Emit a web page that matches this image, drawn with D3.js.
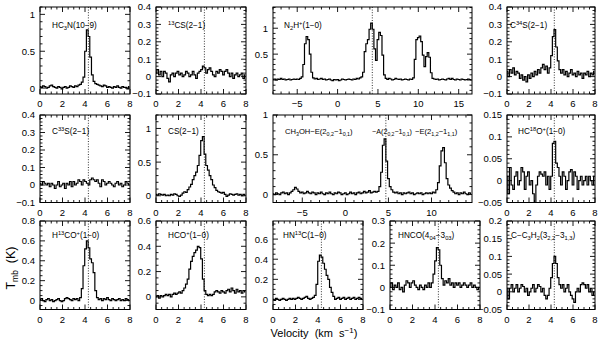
<!DOCTYPE html>
<html><head><meta charset="utf-8">
<script src="https://cdn.jsdelivr.net/npm/d3@7"></script>
<style>
body{margin:0;background:#fff}
svg{display:block}
text{font-family:"Liberation Sans",Arial,Helvetica,sans-serif;fill:#000}
</style>
</head><body>
<svg id="chart" width="600" height="342"></svg>
<script>
// ---------------- DATA ----------------
const vSys = 4.3;
const xTicks08 = [0, 2, 4, 6, 8];
const xTicksN2H = [-5, 0, 5, 10, 15];
const xTicksCH3OH = [-5, 0, 5, 10];
const yTicksHalf = [0, 0.5, 1];
const yTicksTenth = [-0.1, 0, 0.1, 0.2, 0.3, 0.4];
const yTicksHC18O = [-0.05, 0, 0.05, 0.1, 0.15];
const yTicksH13CO = [0, 0.2, 0.4, 0.6, 0.8];
const yTicksHCO = [0, 0.2, 0.4, 0.6];
const yTicksHN13C = [0, 0.2, 0.4, 0.6];
const yTicksHNCO = [-0.1, 0, 0.1, 0.2, 0.3];
const yTicksC3H2 = [-0.05, 0, 0.05, 0.1, 0.15, 0.2];

// channel grids: first velocity and channel width (km/s)
const grid08 = {v0: 0, dv: 0.15};
const gridN2H = {v0: -8, dv: 0.2};
const gridCH3OH = {v0: -8.4, dv: 0.2};

// spectra (T_mb in K), one value per channel
const hc3n = [0.02,0.01,0.03,0.02,0.00,0.01,0.03,0.04,0.02,0.01,0.00,0.02,0.01,-0.01,0.01,0.02,0.00,0.01,0.03,0.02,0.01,0.03,0.02,0.04,0.05,0.08,
  0.15,0.5,0.79,0.7,0.42,0.18,0.09,0.06,0.05,0.04,0.03,
  0.02,0.04,0.03,0.01,0.02,0.01,0.00,0.02,0.01,0.03,0.01,0.00,0.02,0.01,0.01,-0.01,0.02];
const cs13 = [0.02,0.04,0.01,0.03,0.00,0.03,0.02,-0.01,-0.03,0.01,0.02,0.00,0.02,0.03,0.01,0.02,0.00,0.01,0.03,0.02,
  0.00,0.01,0.03,0.01,-0.01,0.02,0.03,0.04,0.06,0.05,0.02,0.04,0.05,0.03,0.01,0.00,0.03,0.02,0.04,0.03,
  0.01,0.03,0.04,0.02,0.00,0.02,-0.01,0.01,0.02,0.00,0.01,0.02,-0.01,0.01];
const n2hp = [0.01,0.02,0.00,0.02,0.01,0.03,0.01,0.02,0.00,0.01,0.02,0.00,0.01,0.02,0.01,0.02,0.01,0.03,0.06,0.3,
  0.7,0.84,0.78,0.5,0.15,0.04,0.02,0.03,0.01,0.02,0.03,0.01,0.02,0.00,0.01,0.02,0.00,-0.01,0.01,0.00,
  0.01,-0.01,0.00,0.02,0.01,0.00,0.01,0.02,0.01,0.00,0.02,0.01,0.03,0.02,0.04,0.06,0.15,0.55,0.7,0.78,
  0.98,1.1,0.98,0.6,0.38,0.78,0.92,0.86,0.48,0.1,0.03,0.01,0.03,0.02,0.00,0.01,0.03,0.02,0.01,0.02,
  0.00,0.01,0.02,0.01,0.00,0.02,0.01,0.04,0.4,0.78,0.82,0.85,0.74,0.48,0.26,0.45,0.53,0.44,0.14,0.03,
  0.02,0.01,0.02,0.00,0.01,0.02,0.01,0.00,0.02,0.03,0.01,0.03,0.01,0.00,0.02,0.01,0.00,0.02,0.01,0.00,
  0.01,0.02,0.01,0.00];
const c34s = [0.03,0.00,0.04,0.02,0.05,0.01,0.03,0.02,-0.01,0.01,-0.02,0.00,-0.03,0.01,-0.01,0.02,0.00,0.03,0.01,0.04,
  0.02,0.05,0.07,0.04,0.06,0.02,0.05,0.12,0.23,0.27,0.17,0.09,0.04,0.02,0.04,0.01,0.03,0.00,0.02,0.04,
  0.01,0.02,0.00,0.03,0.01,0.02,-0.01,0.02,0.01,0.03,0.00,0.02,0.01,0.03];
const c33s = [0.01,0.00,0.02,0.01,0.00,0.01,-0.01,0.01,0.00,-0.02,0.00,0.02,-0.01,0.00,0.01,-0.02,0.01,0.00,0.02,-0.01,
  0.02,0.00,0.01,0.03,0.02,0.00,0.03,0.02,0.01,0.00,0.03,0.04,0.03,0.02,0.03,0.01,-0.01,0.03,0.02,0.00,
  0.01,0.02,0.01,0.00,-0.01,0.01,0.02,0.00,0.01,-0.01,0.00,0.02,0.01,0.00];
const cs = [0.02,0.01,0.03,0.02,0.01,0.02,0.00,0.01,0.00,0.02,0.01,0.03,0.02,0.00,-0.01,0.01,0.04,0.06,0.05,0.09,
  0.13,0.17,0.24,0.3,0.35,0.45,0.6,0.82,0.88,0.62,0.45,0.38,0.3,0.24,0.16,0.12,0.08,0.06,0.05,0.04,
  0.05,0.02,-0.01,0.01,0.03,0.02,0.01,0.02,0.03,0.01,0.02,0.00,0.02,0.01];
const ch3oh = [0.01,0.00,0.02,0.01,0.00,0.02,0.03,0.01,0.02,0.00,0.02,0.04,0.06,0.09,0.07,0.04,0.02,0.03,0.01,0.02,
  0.04,0.02,0.01,0.03,0.02,0.00,0.02,0.01,0.03,0.01,0.00,0.02,0.01,0.03,0.01,0.00,0.02,0.01,0.03,0.02,
  0.00,0.01,0.02,0.00,0.01,0.03,0.01,0.02,0.00,0.02,0.03,0.01,0.02,0.04,0.02,0.03,0.05,0.02,0.03,0.04,
  0.03,0.04,0.1,0.28,0.62,0.7,0.42,0.2,0.1,0.06,0.03,0.02,0.03,0.01,0.02,0.00,0.02,0.01,0.02,0.03,
  0.01,0.02,0.00,0.01,0.02,0.01,0.02,0.00,0.01,0.02,0.01,0.02,0.01,0.03,0.02,0.06,0.15,0.36,0.55,0.59,
  0.4,0.2,0.12,0.08,0.05,0.03,0.01,0.02,0.00,0.02,0.01,0.03,0.01,0.00,0.02,0.01];
const hc18op = [0.01,-0.03,0.03,-0.01,-0.02,0.01,0.02,-0.01,0.00,0.03,0.02,-0.02,0.01,0.02,-0.01,0.00,-0.03,-0.05,-0.01,0.01,
  0.02,0.015,0.01,0.02,-0.01,0.01,-0.02,0.01,0.085,0.09,0.04,0.03,0.01,-0.01,0.02,0.01,-0.02,0.00,0.02,0.025,
  -0.01,0.02,0.01,-0.02,0.00,0.01,-0.01,0.00,0.01,-0.01,0.01,0.00,-0.01,0.01];
const h13cop = [0.01,0.02,0.00,-0.01,0.01,0.02,0.00,0.01,-0.01,0.00,0.01,0.02,0.00,-0.01,0.00,0.02,0.03,0.02,0.01,0.00,
  0.02,0.01,0.02,0.00,0.03,0.12,0.35,0.52,0.6,0.53,0.42,0.38,0.28,0.1,0.03,
  0.01,0.02,0.00,0.02,0.01,0.03,0.01,0.00,0.02,0.01,0.00,0.01,0.02,0.00,0.01,0.00,0.02,0.01,0.00];
const hcop = [0.00,0.01,-0.01,0.01,0.00,0.01,0.02,0.01,0.02,0.00,0.02,0.03,0.02,0.03,0.04,0.03,0.05,0.07,0.1,0.14,
  0.22,0.28,0.32,0.35,0.37,0.4,0.39,0.3,0.14,0.05,0.02,0.01,0.02,0.01,0.02,0.04,0.05,0.04,0.03,0.05,
  0.04,0.03,0.05,0.06,0.04,0.07,0.05,0.03,0.06,0.04,0.05,0.03,0.05,0.04];
const hn13c = [0.00,-0.01,0.01,0.00,-0.01,0.00,0.01,0.00,-0.01,0.00,0.01,0.00,0.01,0.00,0.01,0.02,0.01,0.00,0.01,0.02,
  0.03,0.01,0.00,0.01,0.02,0.04,0.15,0.38,0.44,0.42,0.36,0.3,0.24,0.2,0.12,0.07,0.03,0.00,0.01,0.02,
  0.00,0.01,0.02,0.00,0.01,0.02,0.00,0.01,0.02,0.00,0.01,0.02,0.01,0.00];
const hnco = [0.00,0.02,-0.01,0.01,0.00,0.02,-0.01,0.00,-0.02,0.01,0.03,0.02,0.00,0.02,0.03,0.01,0.00,-0.01,0.01,0.00,
  -0.01,0.01,0.00,0.02,0.00,0.02,0.06,0.12,0.18,0.17,0.1,0.04,0.01,0.03,0.02,0.04,0.01,0.02,0.00,0.02,
  0.01,0.02,0.00,0.01,0.02,0.01,0.00,0.01,0.02,0.00,0.01,0.00,-0.01,0.00];
const cc3h2 = [0.01,-0.02,0.01,0.02,0.00,0.01,0.02,0.00,0.01,0.02,0.015,0.00,0.01,-0.01,0.00,0.01,0.02,0.00,0.01,0.02,
  0.015,0.00,0.01,-0.01,-0.02,-0.01,0.01,0.04,0.08,0.1,0.08,0.04,0.02,0.01,0.02,0.00,0.01,0.02,0.00,-0.01,
  -0.02,-0.03,0.00,0.01,0.00,0.02,0.025,0.02,0.01,0.02,0.00,0.01,-0.01,0.00];

// ---------------- LAYOUT ----------------
const cols = {A:[40,130], B:[156,246], C:[273,363], D:[390,480], E:[507,595], W:[273,472]};
const rows = {1:[7,94], 2:[115,202.5], 3:[221,309.5]};
const titleDy = {1:21, 2:18.5, 3:17};

const panels = [
  {T:hc3n, g:grid08, col:"A", row:1, xd:[0,8], yd:[-0.08,1.1], xt:xTicks08, xm:0.5, yt:yTicksHalf, ym:0.1, vl:vSys,
   titles:[{dx:12, segs:[["HC"],["3","sub"],["N(10−9)"]]}]},
  {T:cs13, g:grid08, col:"B", row:1, xd:[0,8], yd:[-0.1,0.4], xt:xTicks08, xm:0.5, yt:yTicksTenth, ym:0.02, vl:vSys,
   titles:[{dx:12, segs:[["13","sup"],["CS(2−1)"]]}]},
  {T:n2hp, g:gridN2H, col:"W", row:1, xd:[-8,16.65], yd:[-0.27,1.41], xt:xTicksN2H, xm:1, yt:yTicksHalf, ym:0.1, vl:vSys,
   titles:[{dx:11, segs:[["N"],["2","sub"],["H"],["+","sup"],["(1−0)"]]}]},
  {T:c34s, g:grid08, col:"E", row:1, xd:[0,8], yd:[-0.1,0.4], xt:xTicks08, xm:0.5, yt:yTicksTenth, ym:0.02, vl:vSys,
   titles:[{dx:3, segs:[["C"],["34","sup"],["S(2−1)"]]}]},
  {T:c33s, g:grid08, col:"A", row:2, xd:[0,8], yd:[-0.1,0.4], xt:xTicks08, xm:0.5, yt:yTicksTenth, ym:0.02, vl:vSys,
   titles:[{dx:12, segs:[["C"],["33","sup"],["S(2−1)"]]}]},
  {T:cs, g:grid08, col:"B", row:2, xd:[0,8], yd:[-0.1,1.2], xt:xTicks08, xm:0.5, yt:yTicksHalf, ym:0.1, vl:vSys,
   titles:[{dx:12, segs:[["CS(2−1)"]]}]},
  {T:ch3oh, g:gridCH3OH, col:"W", row:2, xd:[-8.4,14.7], yd:[-0.1,1.0], xt:xTicksCH3OH, xm:1, yt:yTicksHalf, ym:0.1, vl:4.7,
   titles:[{dx:12, fs:7.6, segs:[["CH"],["3","sub"],["OH−E(2"],["0,2","sub"],["−1"],["0,1","sub"],[")"]]},
           {dx:99, fs:7.2, segs:[["−A(2"],["0,2","sub"],["−1"],["0,1","sub"],[")"]]},
           {dx:142, fs:7.6, segs:[["−E(2"],["1,2","sub"],["−1"],["1,1","sub"],[")"]]}]},
  {T:hc18op, g:grid08, col:"E", row:2, xd:[0,8], yd:[-0.05,0.15], xt:xTicks08, xm:0.5, yt:yTicksHC18O, ym:0.01, vl:vSys,
   titles:[{dx:11, segs:[["HC"],["18","sup"],["O"],["+","sup"],["(1−0)"]]}]},
  {T:h13cop, g:grid08, col:"A", row:3, xd:[0,8], yd:[-0.09,0.8], xt:xTicks08, xm:0.5, yt:yTicksH13CO, ym:0.05, vl:vSys,
   titles:[{dx:12, segs:[["H"],["13","sup"],["CO"],["+","sup"],["(1−0)"]]}]},
  {T:hcop, g:grid08, col:"B", row:3, xd:[0,8], yd:[-0.1,0.6], xt:xTicks08, xm:0.5, yt:yTicksHCO, ym:0.05, vl:vSys,
   titles:[{dx:12, segs:[["HCO"],["+","sup"],["(1−0)"]]}]},
  {T:hn13c, g:grid08, col:"C", row:3, xd:[0,8], yd:[-0.1,0.78], xt:xTicks08, xm:0.5, yt:yTicksHN13C, ym:0.05, vl:vSys,
   titles:[{dx:10, segs:[["HN"],["13","sup"],["C(1−0)"]]}]},
  {T:hnco, g:grid08, col:"D", row:3, xd:[0,8], yd:[-0.1,0.3], xt:xTicks08, xm:0.5, yt:yTicksHNCO, ym:0.02, vl:vSys,
   titles:[{dx:8, segs:[["HNCO(4"],["04","sub"],["−3"],["03","sub"],[")"]]}]},
  {T:cc3h2, g:grid08, col:"E", row:3, xd:[0,8], yd:[-0.05,0.2], xt:xTicks08, xm:0.5, yt:yTicksC3H2, ym:0.01, vl:vSys,
   titles:[{dx:4, segs:[["C−C"],["3","sub"],["H"],["2","sub"],["(3"],["2,2","sub"],["−3"],["1,3","sub"],[")"]]}]}
];

// ---------------- DRAW ----------------
const svg = d3.select("#chart");
const defs = svg.append("defs");
const fmt = v => {
  const s = String(+v.toFixed(3));
  return v < 0 ? "−" + s.slice(1) : s;
};
const TICK_MAJ = 5, TICK_MIN = 2.5, TICK_FS = 9.5, TITLE_FS = 8.2;

function minorTicks(dom, step, majors) {
  const out = [];
  const start = Math.ceil(dom[0] / step - 1e-9);
  const end = Math.floor(dom[1] / step + 1e-9);
  for (let k = start; k <= end; k++) {
    const v = +(k * step).toFixed(6);
    if (!majors.some(m => Math.abs(m - v) < 1e-6)) out.push(v);
  }
  return out;
}

panels.forEach((p, pi) => {
  const [x0, x1] = cols[p.col];
  const [y0, y1] = rows[p.row];
  const x = d3.scaleLinear().domain(p.xd).range([x0, x1]);
  const y = d3.scaleLinear().domain(p.yd).range([y1, y0]);
  const g = svg.append("g");

  const cid = "clip" + pi;
  defs.append("clipPath").attr("id", cid).append("rect")
    .attr("x", x0).attr("y", y0).attr("width", x1 - x0).attr("height", y1 - y0);

  const xStep = p.xt[1] - p.xt[0];
  const allXMaj = d3.range(Math.ceil(p.xd[0] / xStep - 1e-9), Math.floor(p.xd[1] / xStep + 1e-9) + 1).map(k => k * xStep);
  const xMaj = p.xt.filter(v => v >= p.xd[0] - 1e-9 && v <= p.xd[1] + 1e-9);
  const xMin = minorTicks(p.xd, p.xm, allXMaj);
  const yStep = p.yt[1] - p.yt[0];
  const allYMaj = d3.range(Math.ceil(p.yd[0] / yStep - 1e-9), Math.floor(p.yd[1] / yStep + 1e-9) + 1).map(k => +(k * yStep).toFixed(6));
  const yMin = minorTicks(p.yd, p.ym, allYMaj);

  const tk = g.append("g").attr("stroke", "#000").attr("stroke-width", 0.9);
  allXMaj.forEach(v => {
    const px = x(v);
    tk.append("line").attr("x1", px).attr("x2", px).attr("y1", y1).attr("y2", y1 - TICK_MAJ);
    tk.append("line").attr("x1", px).attr("x2", px).attr("y1", y0).attr("y2", y0 + TICK_MAJ);
  });
  xMin.forEach(v => {
    const px = x(v);
    tk.append("line").attr("x1", px).attr("x2", px).attr("y1", y1).attr("y2", y1 - TICK_MIN);
    tk.append("line").attr("x1", px).attr("x2", px).attr("y1", y0).attr("y2", y0 + TICK_MIN);
  });
  allYMaj.forEach(v => {
    const py = y(v);
    tk.append("line").attr("y1", py).attr("y2", py).attr("x1", x0).attr("x2", x0 + TICK_MAJ);
    tk.append("line").attr("y1", py).attr("y2", py).attr("x1", x1).attr("x2", x1 - TICK_MAJ);
  });
  yMin.forEach(v => {
    const py = y(v);
    tk.append("line").attr("y1", py).attr("y2", py).attr("x1", x0).attr("x2", x0 + TICK_MIN);
    tk.append("line").attr("y1", py).attr("y2", py).attr("x1", x1).attr("x2", x1 - TICK_MIN);
  });

  // tick labels
  xMaj.forEach(v => {
    g.append("text").attr("x", x(v)).attr("y", y1 + 13).attr("text-anchor", "middle")
      .attr("font-size", TICK_FS).text(fmt(v));
  });
  p.yt.forEach(v => {
    g.append("text").attr("x", x0 - 5).attr("y", y(v) + 3.4).attr("text-anchor", "end")
      .attr("font-size", TICK_FS).text(fmt(v));
  });

  // systemic velocity dotted line
  g.append("line").attr("x1", x(p.vl)).attr("x2", x(p.vl)).attr("y1", y0).attr("y2", y1)
    .attr("stroke", "#000").attr("stroke-width", 0.8).attr("stroke-dasharray", "1,1.6");

  // spectrum
  const line = d3.line()
    .x((d, i) => x(p.g.v0 + i * p.g.dv))
    .y(d => y(d))
    .curve(d3.curveStep);
  g.append("path").attr("d", line(p.T)).attr("fill", "none").attr("stroke", "#000")
    .attr("stroke-width", 1.2).attr("clip-path", `url(#${cid})`);

  // frame
  g.append("rect").attr("x", x0).attr("y", y0).attr("width", x1 - x0).attr("height", y1 - y0)
    .attr("fill", "none").attr("stroke", "#000").attr("stroke-width", 1);

  // titles
  p.titles.forEach(t => {
    const fs = t.fs || TITLE_FS;
    const txt = g.append("text").attr("x", x0 + t.dx).attr("y", y0 + titleDy[p.row]).attr("font-size", fs);
    let prev = 0;
    t.segs.forEach(([s, kind]) => {
      const shift = kind === "sub" ? 2 : kind === "sup" ? -3 : 0;
      const ts = txt.append("tspan").text(s).attr("dy", shift - prev);
      if (kind) ts.attr("font-size", fs * 0.7);
      prev = shift;
    });
  });
});

// axis titles
const yl = svg.append("text").attr("transform", "translate(15,268) rotate(-90)")
  .attr("text-anchor", "middle").attr("font-size", 12.5).attr("style", "white-space:pre");
yl.append("tspan").text("T");
yl.append("tspan").text("mb").attr("font-size", 8.5).attr("dy", 3);
yl.append("tspan").text("  (K)").attr("dy", -3);

const xl = svg.append("text").attr("x", 314).attr("y", 337).attr("text-anchor", "middle")
  .attr("font-size", 11).attr("style", "white-space:pre");
xl.append("tspan").text("Velocity  (km  s");
xl.append("tspan").text("−1").attr("font-size", 8).attr("dy", -4);
xl.append("tspan").text(")").attr("dy", 4);
</script>
</body></html>
